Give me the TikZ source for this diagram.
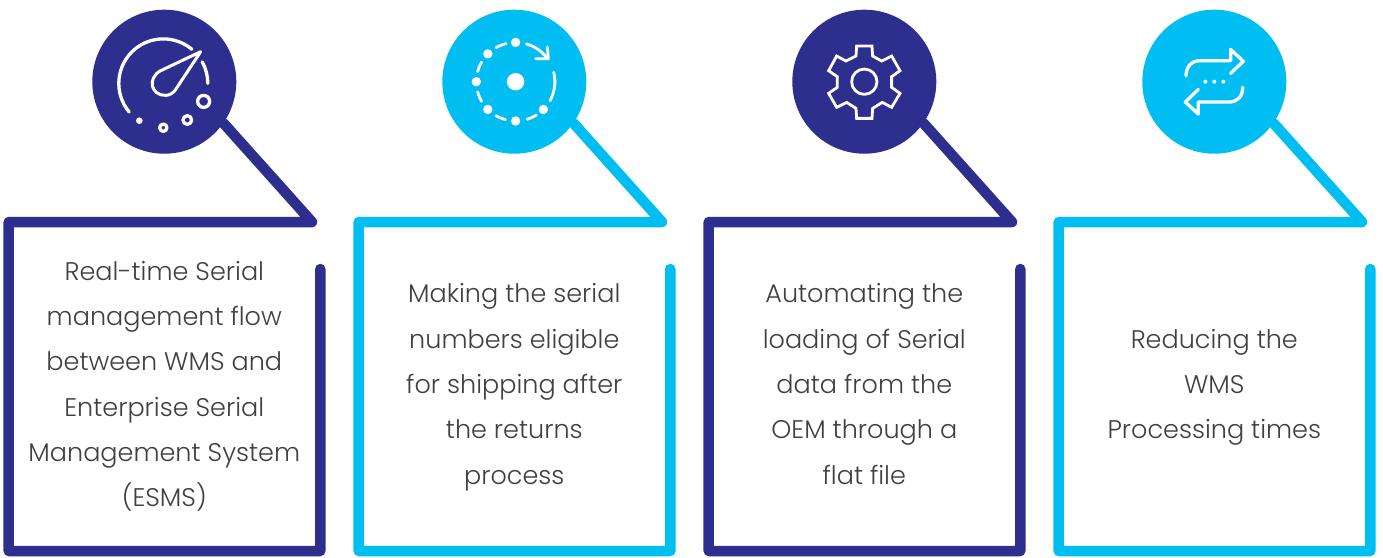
\documentclass[tikz,border=0pt]{standalone}
\usepackage{fontspec}
\setmainfont{Poppins}[UprightFont=* Light]
\definecolor{navy}{HTML}{2E2E8E}
\definecolor{sky}{HTML}{00BEF2}
\definecolor{txt}{HTML}{404040}
\tikzset{
  badge/.style={circle,fill=#1,draw=none,minimum size=144pt,inner sep=0pt},
  frameline/.style={draw=#1,line width=10.5pt,line join=round,line cap=round},
  bodytext/.style={text=txt,align=center,inner sep=0pt,font=\fontsize{25.5}{45.3}\selectfont},
  icon/.style={draw=white,line width=3.3pt,line cap=round,line join=round},
  zoomed/.style={x=0.33333pt,y=-0.33333pt,shift={(-253,-245)}},
}
\newcommand{\panel}[4]{%
  % #1 name, #2 x offset, #3 colour, #4 text
  \node[badge=#3] (c#1) at (164.3+#2,81.7) {};
  \coordinate (t#1) at (312+#2,222);
  \coordinate (tl#1) at (8.7+#2,222);
  \coordinate (bl#1) at (8.7+#2,551);
  \coordinate (br#1) at (320.3+#2,551);
  \coordinate (tr#1) at (320.3+#2,269);
  \draw[frameline=#3] (c#1.-35) -- (t#1) -- (tl#1) -- (bl#1) -- (br#1) -- (tr#1);
  \node[bodytext] (x#1) at (164.3+#2,384.5) {\strut #4\strut};
}
\begin{document}
\begin{tikzpicture}[x=1pt,y=-1pt]
\useasboundingbox (0,0) rectangle (1383,557);
\fill[white] (0,0) rectangle (1383,557);
\panel{1}{0}{navy}{Real-time Serial\\management flow\\between WMS and\\Enterprise Serial\\Management System\\(ESMS)}
\panel{2}{350}{sky}{Making the serial\\numbers eligible\\for shipping after\\the returns\\process}
\panel{3}{700}{navy}{Automating the\\loading of Serial\\data from the\\OEM through a\\flat file}
\panel{4}{1050}{sky}{Reducing the\\WMS\\Processing times}
% gauge
\begin{scope}[shift={(c1.center)},x=1pt,y=1pt]
  \draw[icon] (-1,-1.7) ++(220:44.5) arc[start angle=220,end angle=50,radius=44.5];
  \draw[icon] (-1,-1.7) ++(29:44.5) arc[start angle=29,end angle=0,radius=44.5];
\end{scope}
\begin{scope}[shift={(c1.center)},zoomed]
  \draw[icon,line width=3pt] (362,155) -- (240,213) .. controls (200,238) and (215,287) .. (257,286) .. controls (270,286) and (280,278) .. (286,270) -- cycle;
  \fill[white] (178,362) circle[radius=10];
  \draw[icon] (250,383) circle[radius=11];
  \draw[icon] (322,360) circle[radius=13];
  \draw[icon] (371,304) circle[radius=18];
\end{scope}
% cycle
\begin{scope}[shift={(c2.center)},x=1pt,y=1pt,xshift=1.3pt]
  \fill[white] (0,0) circle[radius=8.7];
  \foreach \a in {90,135,180,225,270,315} \fill[white] (\a:39.3) circle[radius=4.7];
  \foreach \s/\e in {104/120,150/165,195/210,240/255,287/302,331/374,36/74}
    \draw[icon,line width=2.8pt] (\s:39.3) arc[start angle=\s,end angle=\e,radius=39.3];
\end{scope}
\begin{scope}[shift={(c2.center)},zoomed]
  \draw[icon,line width=2.8pt] (317,176) -- (355,176) -- (352,141);
\end{scope}
% gear
\begin{scope}[shift={(c3.center)},zoomed]
  \draw[icon,line width=2.8pt,line join=miter] (230,138) -- (276,138) -- (278,168) -- (305,183) -- (335,168) -- (360,212) -- (335,230) -- (335,262) -- (360,280) -- (335,322) -- (307,307) -- (278,325) -- (276,355) -- (230,355) -- (228,325) -- (200,307) -- (170,322) -- (146,280) -- (172,262) -- (172,230) -- (146,212) -- (170,168) -- (198,183) -- (228,168) -- cycle;
  \draw[icon,line width=2.8pt] (253,245) circle[radius=38];
\end{scope}
% arrows
\begin{scope}[shift={(c4.center)},zoomed]
  \draw[icon] (168,228) .. controls (168,200) and (185,182) .. (210,182) -- (302,182) -- (302,148) -- (340,184) -- (302,220);
  \draw[icon] (338,262) .. controls (338,290) and (322,306) .. (297,306) -- (205,306) -- (205,342) -- (166,306) -- (205,268);
  \foreach \px in {226,253,280} \fill[white] (\px,245) circle[radius=6];
\end{scope}
\end{tikzpicture}
\end{document}
